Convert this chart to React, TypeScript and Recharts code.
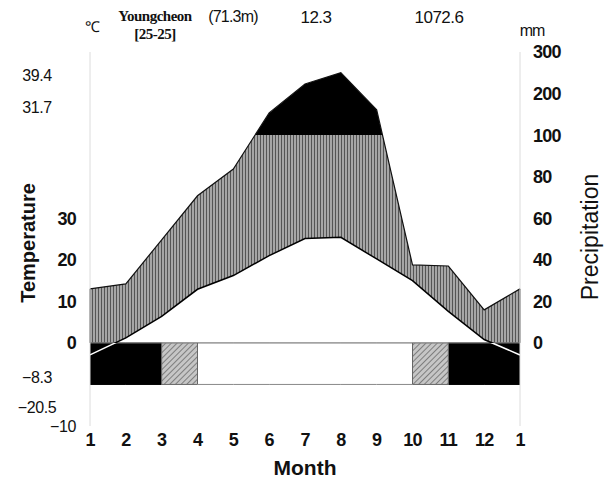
import React from 'react';
import { ComposedChart, Area, Line, XAxis, YAxis, ReferenceLine } from 'recharts';

// months 1..12 plus January again to close the year
const months = [1, 2, 3, 4, 5, 6, 7, 8, 9, 10, 11, 12, 13];
const monthLabels = ['1', '2', '3', '4', '5', '6', '7', '8', '9', '10', '11', '12', '1'];
const temperature = [-2.9, 1.2, 6.4, 12.9, 16.2, 21.0, 25.1, 25.4, 20.2, 15.0, 7.6, 0.8, -2.9];
const precipitation = [26, 28.4, 49.6, 70.8, 83.7, 153.5, 223, 250.5, 160.8, 37.5, 37, 15.9, 26];
// frost for each month interval Jan..Dec: sure / likely / none
const frost = ['sure', 'sure', 'likely', 'none', 'none', 'none', 'none', 'none', 'none', 'likely', 'sure', 'sure'];

const leftTicks = [-20, -15.4, -8.3, 0, 10, 20, 30, 56.8, 64.5];
const leftTickLabels = ['\u221210', '\u221220.5', '\u22128.3', '0', '10', '20', '30', '31.7', '39.4'];
const rightTicks = [0, 10, 20, 30, 40, 50, 60, 70];
const rightTickLabels = ['0', '20', '40', '60', '80', '100', '200', '300'];

// walter-lieth: 10 deg = 20 mm below 100 mm, 10 deg = 100 mm above
const toTempScale = (p: number) => (p <= 100 ? p / 2 : 50 + (p - 100) / 10);

const frostRange = (cls: string, i: number) =>
  frost[i] === cls || frost[i - 1] === cls ? [-10, 0] : null;

const data = months.map((m, i) => ({
  month: m,
  temp: temperature[i],
  prec: toTempScale(precipitation[i]),
  sure: frostRange('sure', i),
  likely: frostRange('likely', i),
  none: frostRange('none', i),
}));

// frost bar borders where the class changes
const frostEdges = months.filter((m, i) => i > 0 && i < 12 && frost[i] !== frost[i - 1]);

const tMax = Math.max(...temperature);
const tMin = Math.min(...temperature);
const zeroOffset = tMax / (tMax - tMin);

const SANS = '"Liberation Sans", Arial, sans-serif';

const LeftTick = ({ x, y, payload }: any) => {
  const i = leftTicks.indexOf(payload.value);
  const label = leftTickLabels[i];
  const main = payload.value >= 0 && payload.value <= 30;
  const extreme = !main && payload.value !== -20;
  return (
    <text
      x={extreme ? x - 53 : x - 14}
      y={y}
      dy="0.36em"
      textAnchor={extreme ? 'middle' : 'end'}
      fontFamily={SANS}
      fontSize={main ? 18 : 16}
      fontWeight={main ? 'bold' : 'normal'}
      letterSpacing={main ? -0.8 : -0.4}
      fill="#111"
    >
      {label}
    </text>
  );
};

const RightTick = ({ x, y, payload }: any) => {
  const label = rightTickLabels[rightTicks.indexOf(payload.value)];
  return (
    <text x={x + 13} y={y} dy="0.36em" textAnchor="start" fontFamily={SANS} fontSize={18}
      fontWeight="bold" letterSpacing={-0.8} fill="#111">
      {label}
    </text>
  );
};

const MonthTick = ({ x, y, payload }: any) => (
  <text x={x} y={y + 20} textAnchor="middle" fontFamily={SANS} fontSize={18}
    fontWeight="bold" letterSpacing={-0.8} fill="#111">
    {monthLabels[payload.value - 1]}
  </text>
);

const abs = (left: number, top: number, extra: React.CSSProperties = {}): React.CSSProperties => ({
  position: 'absolute',
  left,
  top,
  transform: 'translate(-50%, -50%)',
  whiteSpace: 'nowrap',
  lineHeight: 1,
  fontFamily: SANS,
  color: '#111',
  ...extra,
});

const serif: React.CSSProperties = {
  fontSize: 15,
  fontWeight: 'bold',
  fontFamily: '"Liberation Serif", serif',
  letterSpacing: -0.5,
};

export default function App() {
  return (
    <div style={{ position: 'relative', width: 600, height: 475 }}>
      <div style={abs(84, 18, { fontSize: 15 })}>℃</div>
      <div style={abs(147, 8, serif)}>Youngcheon</div>
      <div style={abs(147, 26, serif)}>[25-25]</div>
      <div style={abs(225, 9, { fontSize: 16, letterSpacing: -0.8 })}>(71.3m)</div>
      <div style={abs(308, 9, { fontSize: 17, letterSpacing: -0.5 })}>12.3</div>
      <div style={abs(431, 9, { fontSize: 17, letterSpacing: -0.5 })}>1072.6</div>
      <div style={abs(524, 23, { fontSize: 16, letterSpacing: -1 })}>mm</div>
      <div style={abs(20, 235, { fontSize: 20, fontWeight: 'bold', transform: 'translate(-50%, -50%) rotate(-90deg)' })}>Temperature</div>
      <div style={abs(582, 229, { fontSize: 23, transform: 'translate(-50%, -50%) rotate(-90deg)' })}>Precipitation</div>
      <div style={abs(297, 459, { fontSize: 21, fontWeight: 'bold' })}>Month</div>

      <ComposedChart width={600} height={475} data={data} margin={{ top: 44, right: 28, bottom: 27, left: 22 }}>
        <defs>
          <pattern id="vhatch" patternUnits="userSpaceOnUse" width={3} height={10}>
            <rect width={3} height={10} fill="#a6a6a6" />
            <rect width={1} height={10} fill="#555" />
          </pattern>
          <pattern id="dhatch" patternUnits="userSpaceOnUse" width={4} height={4} patternTransform="rotate(45)">
            <rect width={4} height={4} fill="#c6c6c6" />
            <rect width={1} height={4} fill="#7e7e7e" />
          </pattern>
          <linearGradient id="tempStroke" x1="0" y1="0" x2="0" y2="1">
            <stop offset={0} stopColor="#000" />
            <stop offset={zeroOffset} stopColor="#000" />
            <stop offset={zeroOffset} stopColor="#fff" />
            <stop offset={1} stopColor="#fff" />
          </linearGradient>
        </defs>

        <XAxis dataKey="month" type="number" domain={[1, 13]} ticks={months} interval={0}
          axisLine={false} tickLine={false} tickSize={0} tickMargin={0} height={30} tick={<MonthTick />} />
        <YAxis yAxisId="left" domain={[-20, 70]} ticks={leftTicks} interval={0} allowDataOverflow
          width={60} tickSize={0} tickMargin={0} tickLine={false} axisLine={{ stroke: '#dcdcdc' }} tick={<LeftTick />} />
        <YAxis yAxisId="right" orientation="right" domain={[-20, 70]} ticks={rightTicks} interval={0} allowDataOverflow
          width={60} tickSize={0} tickMargin={0} tickLine={false} axisLine={{ stroke: '#dcdcdc' }} tick={<RightTick />} />

        {/* precipitation above 100 mm shows black, humid part hatched */}
        <Area yAxisId="left" dataKey={(d: any) => [0, d.prec]} type="linear" fill="#000" fillOpacity={1} stroke="none" isAnimationActive={false} />
        <Area yAxisId="left" dataKey={() => [0, 50]} type="linear" fill="url(#vhatch)" fillOpacity={1} stroke="none" isAnimationActive={false} />
        <Area yAxisId="left" dataKey={(d: any) => [d.prec, 70]} type="linear" fill="#fff" fillOpacity={1} stroke="none" isAnimationActive={false} />
        <Area yAxisId="left" dataKey="temp" baseValue={0} type="linear" fill="#fff" fillOpacity={1} stroke="none" isAnimationActive={false} />

        {/* frost bar */}
        <Area yAxisId="left" dataKey="sure" type="linear" fill="#000" fillOpacity={1} stroke="#000" strokeWidth={1} isAnimationActive={false} />
        <Area yAxisId="left" dataKey="likely" type="linear" fill="url(#dhatch)" fillOpacity={1} stroke="#666" strokeWidth={1} isAnimationActive={false} />
        <Area yAxisId="left" dataKey="none" type="linear" fill="#fff" fillOpacity={1} stroke="#888" strokeWidth={1} isAnimationActive={false} />

        <ReferenceLine yAxisId="left" y={0} stroke="#999" strokeWidth={1} />
        {frostEdges.map((m) => (
          <ReferenceLine key={m} yAxisId="left" segment={[{ x: m, y: -10 }, { x: m, y: 0 }]} stroke="#666" strokeWidth={1} />
        ))}
        <ReferenceLine yAxisId="left" segment={[{ x: 1, y: 0 }, { x: 1, y: data[0].prec }]} stroke="#222" strokeWidth={1} />
        <ReferenceLine yAxisId="left" segment={[{ x: 13, y: 0 }, { x: 13, y: data[12].prec }]} stroke="#222" strokeWidth={1} />

        <Line yAxisId="right" dataKey="prec" type="linear" stroke="#111" strokeWidth={1.2} dot={false} isAnimationActive={false} />
        <Line yAxisId="left" dataKey="temp" type="linear" stroke="url(#tempStroke)" strokeWidth={1.5} dot={false} isAnimationActive={false} />
      </ComposedChart>
    </div>
  );
}
